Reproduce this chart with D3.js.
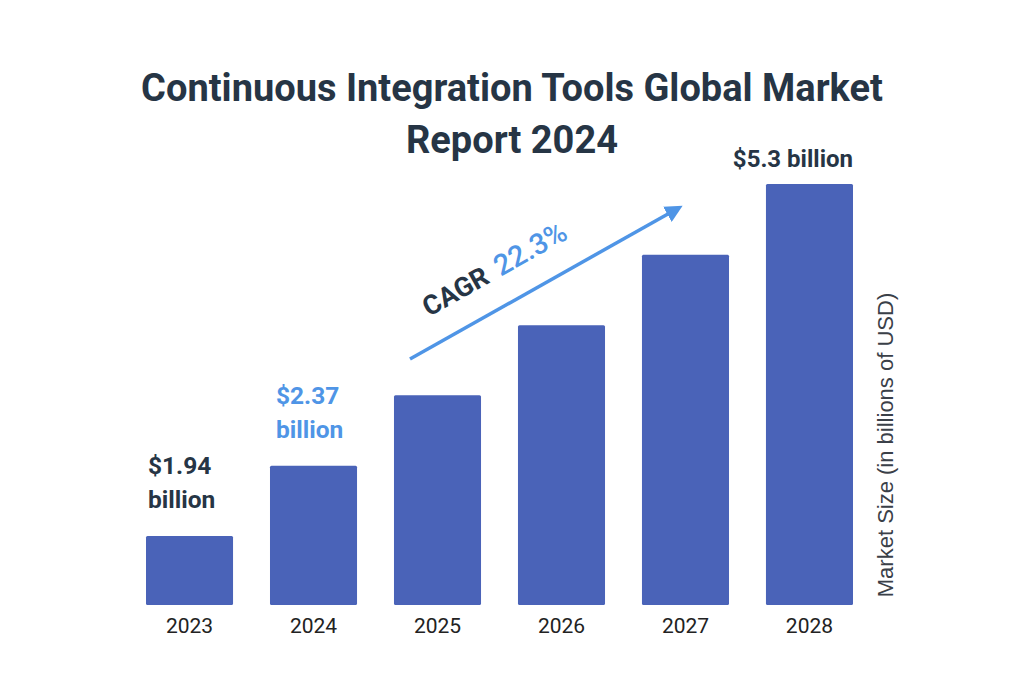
<!DOCTYPE html>
<html><head><meta charset="utf-8">
<script src="https://cdn.jsdelivr.net/npm/d3@7"></script>
<style>html,body{margin:0;padding:0;background:#fff;}svg{display:block;}</style>
</head><body>
<script>
const years = ["2023","2024","2025","2026","2027","2028"];
const values = [1.94, 2.37, 2.90, 3.54, 4.33, 5.30];
const valueLabels = [["$1.94","billion"],["$2.37","billion"],null,null,null,["$5.3 billion"]];
const labelColors = ["#263545","#4f95e6",null,null,null,"#263545"];
const titleLines = ["Continuous Integration Tools Global Market","Report 2024"];
const cagrText = ["CAGR","22.3%"];
const axisTitle = "Market Size (in billions of USD)";

const W=1024,H=683;
const svg=d3.select("body").append("svg").attr("width",W).attr("height",H);
const x=d3.scaleBand().domain(years).range([146,853]).paddingInner(0.298).paddingOuter(0);
const y=d3.scaleLog().domain([1.593,5.3]).range([605,184]);

svg.selectAll("text.title").data(titleLines).enter().append("text")
  .attr("x",512).attr("y",(d,i)=>101+i*52).attr("text-anchor","middle")
  .attr("font-family","Roboto").attr("font-weight","bold").attr("font-size",38)
  .attr("fill","#263545").text(d=>d);

svg.selectAll("rect.bar").data(values).enter().append("rect")
  .attr("x",(d,i)=>x(years[i])).attr("width",x.bandwidth())
  .attr("y",d=>y(d)).attr("height",d=>605-y(d)).attr("rx",1.5)
  .attr("fill","#4a63b8");

const xAxis=svg.append("g").attr("transform","translate(0,605)")
  .call(d3.axisBottom(x).tickSize(0).tickPadding(13));
xAxis.select(".domain").remove();
xAxis.selectAll("text").attr("font-family","Roboto").attr("font-size",21).attr("fill","#222");

valueLabels.forEach((lab,i)=>{
  if(!lab) return;
  const v=values[i];
  if(lab.length===1){
    svg.append("text").attr("x",x(years[i])+x.bandwidth()).attr("y",y(v)-17)
      .attr("text-anchor","end").attr("font-family","Roboto").attr("font-weight","bold")
      .attr("font-size",24).attr("fill",labelColors[i]).text(lab[0]);
  } else {
    lab.forEach((t,j)=>{
      svg.append("text").attr("x",x(years[i])+(i===0?2:6)).attr("y",y(v)-62+j*34)
        .attr("font-family","Roboto").attr("font-weight","bold")
        .attr("font-size",24.5).attr("fill",labelColors[i]).text(t);
    });
  }
});

// CAGR arrow
const defs=svg.append("defs");
defs.append("marker").attr("id","ah").attr("viewBox","0 0 10 10").attr("refX",5).attr("refY",5)
  .attr("markerWidth",5).attr("markerHeight",5).attr("orient","auto")
  .append("path").attr("d","M0,0 L10,5 L0,10 z").attr("fill","#4f95e6");
const a0=[410,359], a1=[675,210];
svg.append("line").attr("x1",a0[0]).attr("y1",a0[1]).attr("x2",a1[0]).attr("y2",a1[1])
  .attr("stroke","#4f95e6").attr("stroke-width",3.5).attr("marker-end","url(#ah)");
const ang=Math.atan2(a1[1]-a0[1],a1[0]-a0[0])*180/Math.PI;
const ct=svg.append("text").attr("transform",`translate(429,317) rotate(${ang})`)
  .attr("font-family","Roboto").attr("font-weight","bold").attr("font-size",27);
ct.append("tspan").attr("fill","#263545").text(cagrText[0]);
ct.append("tspan").attr("fill","#4f95e6").attr("font-weight","500").attr("font-size",29).attr("dx",11).text(cagrText[1]);

svg.append("text").attr("transform","translate(893,445) rotate(-90)").attr("text-anchor","middle")
  .attr("font-family","Liberation Sans").attr("font-size",22).attr("fill","#3a4048").text(axisTitle);
</script>
</body></html>
